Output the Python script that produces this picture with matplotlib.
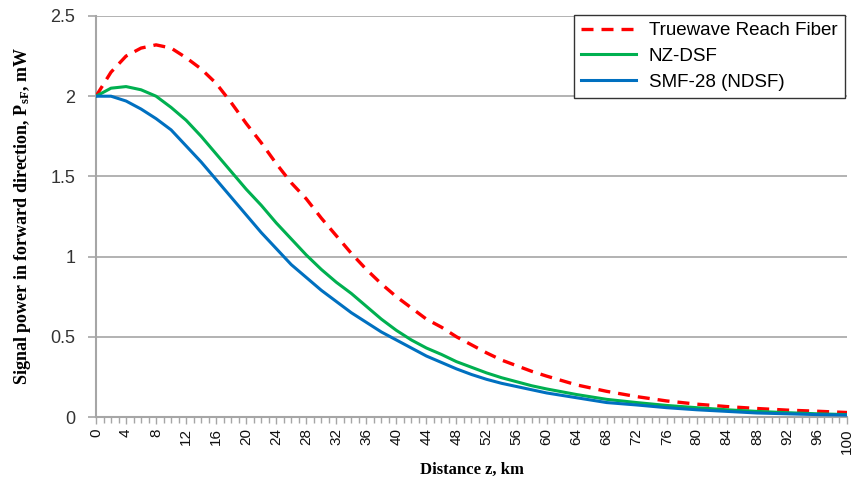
import matplotlib
matplotlib.use("Agg")
import matplotlib.pyplot as plt
from matplotlib.ticker import MultipleLocator

plt.rcParams['mathtext.fontset'] = 'custom'
plt.rcParams['mathtext.rm'] = 'Liberation Serif:bold'
plt.rcParams['mathtext.it'] = 'Liberation Serif:bold'

km = [0, 2, 4, 6, 8, 10, 12, 14, 16, 18, 20, 22, 24, 26, 28, 30, 32, 34, 36, 38,
      40, 42, 44, 46, 48, 50, 52, 54, 56, 58, 60, 64, 68, 72, 76, 80, 84, 88, 92, 96, 100]

truewave = [2.00, 2.15, 2.25, 2.30, 2.32, 2.30, 2.24, 2.17, 2.08, 1.96, 1.83, 1.71, 1.58,
            1.46, 1.36, 1.24, 1.13, 1.02, 0.92, 0.83, 0.75, 0.68, 0.61, 0.56, 0.50, 0.45,
            0.40, 0.355, 0.32, 0.285, 0.255, 0.20, 0.16, 0.127, 0.10, 0.08, 0.065, 0.053,
            0.043, 0.036, 0.028]

nzdsf = [2.00, 2.05, 2.06, 2.04, 2.00, 1.93, 1.85, 1.75, 1.64, 1.53, 1.42, 1.32, 1.21,
         1.11, 1.01, 0.92, 0.84, 0.77, 0.69, 0.61, 0.54, 0.48, 0.43, 0.39, 0.345, 0.31,
         0.275, 0.245, 0.22, 0.195, 0.175, 0.14, 0.11, 0.09, 0.072, 0.058, 0.045, 0.035,
         0.027, 0.02, 0.015]

smf28 = [2.00, 2.00, 1.97, 1.92, 1.86, 1.79, 1.69, 1.59, 1.48, 1.37, 1.26, 1.15, 1.05,
         0.95, 0.87, 0.79, 0.72, 0.65, 0.59, 0.53, 0.48, 0.43, 0.38, 0.34, 0.30, 0.265,
         0.235, 0.21, 0.19, 0.17, 0.15, 0.12, 0.09, 0.075, 0.058, 0.045, 0.035, 0.025,
         0.02, 0.015, 0.012]

labels = ["Truewave Reach Fiber", "NZ-DSF", "SMF-28 (NDSF)"]
colors = ["#FF0000", "#00B050", "#0070C0"]

fig = plt.figure(figsize=(8.53, 4.88), dpi=100)
ax = fig.add_axes([96/853, 1-417/488, (847-96)/853, (417-16)/488])

ax.plot(km, truewave, color=colors[0], lw=2.4, dashes=(3.6, 2.4), label=labels[0], zorder=3)
ax.plot(km, nzdsf, color=colors[1], lw=2.2, label=labels[1], zorder=3)
ax.plot(km, smf28, color=colors[2], lw=2.2, label=labels[2], zorder=4)

ax.set_xlim(0, 100)
ax.set_ylim(0, 2.5)
ax.set_yticks([0, 0.5, 1, 1.5, 2, 2.5])
ax.set_yticklabels(["0", "0.5", "1", "1.5", "2", "2.5"])
ax.set_xticks(list(range(0, 101, 4)))
ax.set_xticklabels([str(v) for v in range(0, 101, 4)], rotation=90)
ax.xaxis.set_minor_locator(MultipleLocator(1))

ax.grid(axis='y', color='#A6A6A6', lw=1.2)
ax.set_axisbelow(True)
for s in ['top', 'right']:
    ax.spines[s].set_visible(False)
for s in ['left', 'bottom']:
    ax.spines[s].set_color('#A6A6A6')
    ax.spines[s].set_linewidth(1.5)

ax.tick_params(axis='y', length=6, width=1.2, color='#A6A6A6', labelsize=13,
               labelcolor='#333333', pad=9)
ax.tick_params(axis='x', which='major', length=5, width=1, color='#A6A6A6',
               labelsize=11, labelcolor='#111111', pad=3)
ax.tick_params(axis='x', which='minor', length=4, width=1, color='#A6A6A6')
for t in ax.get_yticklabels() + ax.get_xticklabels():
    t.set_fontfamily('Liberation Sans')

ax.set_xlabel("Distance z, km", fontfamily='Liberation Serif', fontweight='bold',
              fontsize=12, labelpad=6)
ax.set_ylabel("Signal power in forward direction, P$_{\\mathrm{sF}}$, mW",
              fontfamily='Liberation Serif', fontweight='bold', fontsize=13, labelpad=12)

leg = ax.legend(loc='upper right', bbox_to_anchor=((845-96)/751, 1.003), fancybox=False,
                framealpha=1, edgecolor='#333333', prop={'family': 'Liberation Sans', 'size': 13.5},
                handlelength=2.9, borderpad=0.4, labelspacing=0.45, handletextpad=0.7,
                borderaxespad=0)
leg.get_frame().set_linewidth(1.0)

fig.savefig("out.png", dpi=100)
